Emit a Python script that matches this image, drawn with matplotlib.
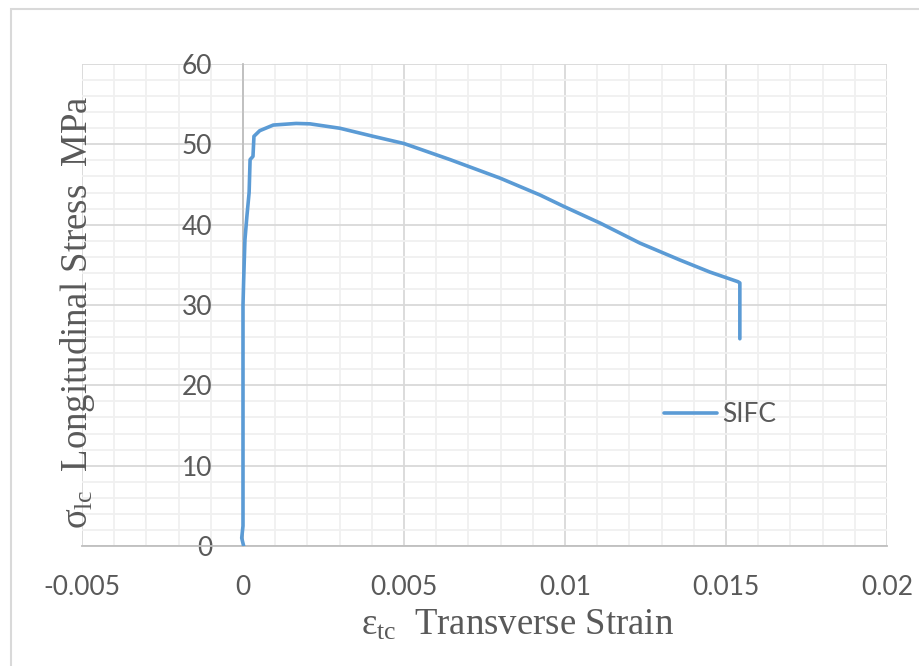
import matplotlib.pyplot as plt
from matplotlib.ticker import MultipleLocator
from matplotlib.patches import Rectangle

strain = [0.00002, -0.00004, 0.0, 0.0, 0.00002, 0.00004, 0.00006, 0.00012, 0.00019,
          0.00022, 0.00031, 0.00034, 0.00052, 0.00094, 0.00165, 0.00208, 0.00301,
          0.00404, 0.005, 0.00643, 0.00798, 0.00922, 0.01, 0.01109, 0.01233,
          0.01357, 0.0145, 0.01537, 0.01543, 0.01543]
stress = [0.0, 1.0, 2.5, 30.0, 33.0, 35.6, 38.1, 41.0, 44.0,
          48.1, 48.5, 51.0, 51.7, 52.4, 52.6, 52.55, 52.0,
          51.0, 50.1, 48.1, 45.8, 43.7, 42.2, 40.2, 37.7,
          35.6, 34.1, 32.9, 32.75, 25.8]

xticks = [-0.005, 0, 0.005, 0.01, 0.015, 0.02]
xticklabels = ['-0.005', '0', '0.005', '0.01', '0.015', '0.02']
yticks = [0, 10, 20, 30, 40, 50, 60]

plt.rcParams['mathtext.fontset'] = 'custom'
plt.rcParams['mathtext.rm'] = 'Liberation Serif'
plt.rcParams['mathtext.it'] = 'Liberation Serif'

fig = plt.figure(figsize=(9.19, 6.66), dpi=100)
ax = fig.add_axes([82 / 919, 120 / 666, 805 / 919, 482 / 666])

ax.plot(strain, stress, color='#5B9BD5', lw=2.6, label='SIFC',
        solid_joinstyle='round', solid_capstyle='round', zorder=3)

ax.set_xlim(-0.005, 0.02)
ax.set_ylim(0, 60)
ax.set_xticks(xticks)
ax.set_xticklabels(xticklabels)
ax.set_yticks(yticks)
ax.xaxis.set_minor_locator(MultipleLocator(0.001))
ax.yaxis.set_minor_locator(MultipleLocator(2))

ax.grid(which='major', color='#D9D9D9', lw=1.3, zorder=1)
ax.grid(which='minor', color='#F0F0F0', lw=1.3, zorder=0)
ax.set_axisbelow(True)

for s in ['top', 'right']:
    ax.spines[s].set_visible(False)
ax.spines['left'].set_position(('data', 0))
ax.spines['left'].set_color('#BFBFBF')
ax.spines['bottom'].set_color('#BFBFBF')
ax.spines['left'].set_linewidth(1.3)
ax.spines['bottom'].set_linewidth(1.3)

ax.tick_params(which='both', length=0)
ax.tick_params(axis='y', pad=22, labelsize=19, labelcolor='#595959')
ax.tick_params(axis='x', pad=21, labelsize=19, labelcolor='#595959')
for lab in ax.get_xticklabels() + ax.get_yticklabels():
    lab.set_family('Lato')

fig.text(78 / 919, 1 - 312 / 666, r'$\sigma_{\mathrm{lc}}$  Longitudinal Stress  MPa',
         rotation=90, ha='center', va='center', fontsize=26.5,
         family='Liberation Serif', color='#595959')
fig.text(517 / 919, 1 - 625 / 666, r'$\varepsilon_{\mathrm{tc}}$  Transverse Strain',
         ha='center', va='center', fontsize=26.5,
         family='Liberation Serif', color='#595959')

leg = ax.legend(loc='center left', bbox_to_anchor=(0.723, 0.272), frameon=False,
                borderpad=0, borderaxespad=0, handlelength=2.0, handletextpad=0.2,
                prop={'family': 'Lato', 'size': 19})
for t in leg.get_texts():
    t.set_color('#595959')

fig.patches.append(Rectangle((11 / 919, -0.05), 1.1, 1.05 - 9 / 666,
                             transform=fig.transFigure, fill=False,
                             edgecolor='#D9D9D9', lw=1.5))

fig.savefig('out.png', dpi=100)
